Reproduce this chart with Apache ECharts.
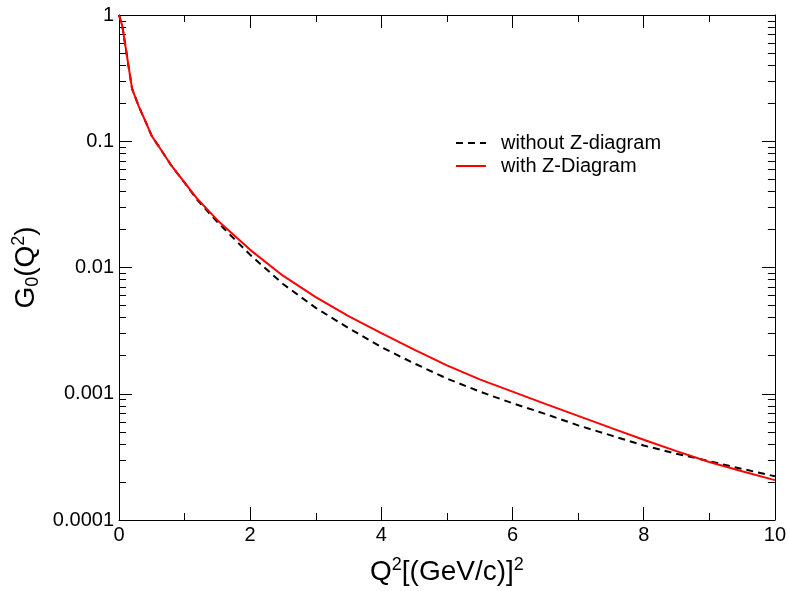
<!DOCTYPE html>
<html>
<head>
<meta charset="utf-8">
<script src="https://cdn.jsdelivr.net/npm/echarts@6/dist/echarts.min.js"></script>
<style>html,body{margin:0;padding:0;background:#fff}#c{width:789px;height:591px}</style>
</head>
<body>
<div id="c"></div>
<script>
var q2 = [0, 0.05, 0.1, 0.15, 0.2, 0.3, 0.4, 0.5, 0.6, 0.8, 1.0, 1.2, 1.5, 2.0, 2.5, 3.0, 3.5, 4.0, 4.5, 5.0, 5.5, 6.0, 6.5, 7.0, 7.5, 8.0, 8.5, 9.0, 9.5, 10.0];
var gWithout = [1.0, 0.82, 0.56, 0.38, 0.26, 0.19, 0.145, 0.11, 0.092, 0.064, 0.047, 0.034, 0.0229, 0.0126, 0.00741, 0.00479, 0.00331, 0.00234, 0.00174, 0.00132, 0.00104, 0.000841, 0.000692, 0.000562, 0.000468, 0.000389, 0.000335, 0.000292, 0.000254, 0.000222];
var gWith = [1.0, 0.82, 0.56, 0.38, 0.26, 0.19, 0.145, 0.11, 0.092, 0.064, 0.047, 0.0347, 0.0237, 0.0138, 0.00861, 0.00582, 0.00412, 0.00302, 0.00224, 0.00168, 0.0013, 0.00104, 0.000832, 0.000668, 0.000537, 0.000432, 0.000351, 0.000288, 0.000243, 0.000207];
var seriesNames = ['without Z-diagram', 'with Z-Diagram'];
var yTickLabels = {'1': '1', '0.1': '0.1', '0.01': '0.01', '0.001': '0.001', '0.0001': '0.0001'};
var xTicks = [0, 2, 4, 6, 8, 10];

var FONT = 'Liberation Sans, Arial, Helvetica, sans-serif';
function pairs(xs, ys) { return xs.map(function (x, i) { return [x, ys[i]]; }); }
function yLabel(v) {
  var k = String(+v.toPrecision(6));
  return yTickLabels[k] !== undefined ? yTickLabels[k] : k;
}
var axisLine = { show: true, onZero: false, lineStyle: { color: '#000', width: 1 } };
var majorTick = { show: true, inside: true, length: 13, lineStyle: { color: '#000', width: 1 } };

var chart = echarts.init(document.getElementById('c'), null, { renderer: 'canvas' });
chart.setOption({
  backgroundColor: '#fff',
  animation: false,
  grid: { left: 119, right: 12, top: 15, bottom: 68, containLabel: false },
  legend: {
    orient: 'vertical', left: 455, top: 133, padding: 0, itemWidth: 30, itemHeight: 14, itemGap: 3,
    data: seriesNames,
    itemStyle: { opacity: 0 },
    textStyle: { fontFamily: FONT, fontSize: 20, color: '#000', padding: [0, 0, 0, 10] }
  },
  xAxis: [{
    type: 'value', min: 0, max: 10, interval: 2, position: 'bottom',
    axisLine: axisLine, axisTick: majorTick,
    minorTick: { show: true, splitNumber: 2, length: 7, lineStyle: { color: '#000' } },
    splitLine: { show: false }, minorSplitLine: { show: false },
    axisLabel: { show: true, fontFamily: FONT, fontSize: 20, color: '#000', margin: 5,
      formatter: function (v) { return xTicks.indexOf(v) >= 0 ? String(v) : ''; } },
    name: 'Q{sup|2}[(GeV/c)]{sup|2}', nameLocation: 'middle', nameGap: 36,
    nameTextStyle: { fontFamily: FONT, fontSize: 28, color: '#000',
      rich: { sup: { fontFamily: FONT, fontSize: 18, color: '#000', verticalAlign: 'bottom', padding: [0, 0, 14, 0] } } }
  }, {
    type: 'value', min: 0, max: 10, interval: 2, position: 'top',
    axisLine: axisLine, axisTick: majorTick,
    minorTick: { show: true, splitNumber: 2, length: 7, lineStyle: { color: '#000' } },
    splitLine: { show: false }, axisLabel: { show: false }
  }],
  yAxis: [{
    type: 'log', logBase: 10, min: 0.0001, max: 1, position: 'left',
    axisLine: axisLine, axisTick: majorTick,
    minorTick: { show: true, splitNumber: 9, length: 7, lineStyle: { color: '#000' } },
    splitLine: { show: false }, minorSplitLine: { show: false },
    axisLabel: { show: true, fontFamily: FONT, fontSize: 20, color: '#000', margin: 5, formatter: yLabel },
    name: 'G{sub|0}(Q{sup|2})', nameLocation: 'middle', nameGap: 72, nameRotate: 90,
    nameTextStyle: { fontFamily: FONT, fontSize: 28, color: '#000',
      rich: { sub: { fontFamily: FONT, fontSize: 18, color: '#000', padding: [14, 0, 0, 0] },
              sup: { fontFamily: FONT, fontSize: 18, color: '#000', padding: [0, 0, 14, 0] } } }
  }, {
    type: 'log', logBase: 10, min: 0.0001, max: 1, position: 'right',
    axisLine: axisLine, axisTick: majorTick,
    minorTick: { show: true, splitNumber: 9, length: 7, lineStyle: { color: '#000' } },
    splitLine: { show: false }, axisLabel: { show: false }
  }],
  series: [{
    name: seriesNames[0], type: 'line', xAxisIndex: 0, yAxisIndex: 0,
    data: pairs(q2, gWithout), symbol: 'none', smooth: false,
    lineStyle: { color: '#000', width: 2, type: [7, 5] }, itemStyle: { color: '#000' }, z: 2
  }, {
    name: seriesNames[1], type: 'line', xAxisIndex: 0, yAxisIndex: 0,
    data: pairs(q2, gWith), symbol: 'none', smooth: false,
    lineStyle: { color: '#ff0000', width: 2 }, itemStyle: { color: '#ff0000' }, z: 3
  }]
});
</script>
</body>
</html>
